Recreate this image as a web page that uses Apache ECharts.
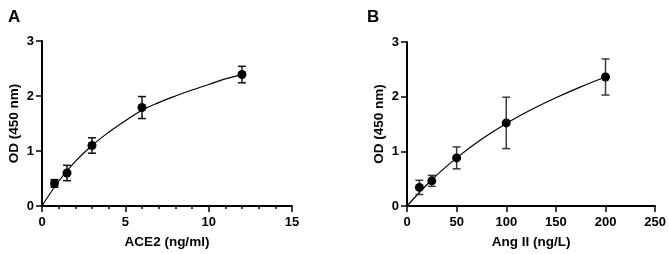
<!DOCTYPE html>
<html>
<head>
<meta charset="utf-8">
<script src="https://cdn.jsdelivr.net/npm/echarts@6/dist/echarts.min.js"></script>
<style>
  html, body { margin: 0; padding: 0; background: #fff; }
  #chart { width: 669px; height: 254px; }
</style>
</head>
<body>
<div id="chart"></div>
<script>
// panel A: ACE2 standard curve
const xA = [0.75, 1.5, 3, 6, 12];
const yA = [0.41, 0.6, 1.1, 1.79, 2.39];
const errA = [0.07, 0.14, 0.14, 0.2, 0.15];
const curveXA = [0, 1, 2, 3, 4, 5, 6, 7, 8, 9, 10, 11, 12];
const curveYA = [0, 0.45, 0.81, 1.1, 1.34, 1.55, 1.74, 1.88, 2.0, 2.11, 2.21, 2.31, 2.39];

// panel B: Ang II standard curve
const xB = [12.5, 25, 50, 100, 200];
const yB = [0.34, 0.46, 0.88, 1.52, 2.36];
const errB = [0.13, 0.1, 0.2, 0.47, 0.33];
const curveXB = [0, 25, 50, 75, 100, 125, 150, 175, 200];
const curveYB = [0, 0.48, 0.88, 1.22, 1.51, 1.76, 1.98, 2.18, 2.36];

const yTicks = [0, 1, 2, 3];

const font = "'Liberation Sans', Arial, sans-serif";

function pairs(xs, ys) {
  return xs.map((x, i) => [x, ys[i]]);
}

function errData(xs, ys, es) {
  return xs.map((x, i) => [x, ys[i] - es[i], ys[i] + es[i]]);
}

function errorBars(color) {
  return function (params, api) {
    const x = api.value(0);
    const lo = api.coord([x, api.value(1)]);
    const hi = api.coord([x, api.value(2)]);
    const w = 4;
    const style = { stroke: color, lineWidth: 1.5 };
    return {
      type: "group",
      children: [
        { type: "line", shape: { x1: lo[0], y1: lo[1], x2: hi[0], y2: hi[1] }, style },
        { type: "line", shape: { x1: lo[0] - w, y1: lo[1], x2: lo[0] + w, y2: lo[1] }, style },
        { type: "line", shape: { x1: hi[0] - w, y1: hi[1], x2: hi[0] + w, y2: hi[1] }, style }
      ]
    };
  };
}

const axisLine = { show: true, lineStyle: { color: "#000", width: 2 } };
const tickStyle = { show: true, length: 6, lineStyle: { color: "#000", width: 1.5 } };
const labelStyle = { color: "#000", fontFamily: font, fontWeight: "bold", fontSize: 13 };
const nameStyle = { color: "#000", fontFamily: font, fontWeight: "bold", fontSize: 13.5 };
const titleStyle = { fontFamily: font, fontWeight: "bold", fontSize: 17, color: "#000" };

function yAxis(gridIndex) {
  return {
    type: "value",
    gridIndex,
    min: yTicks[0],
    max: yTicks[yTicks.length - 1],
    interval: 1,
    name: "OD (450 nm)",
    nameLocation: "middle",
    nameGap: 21,
    nameTextStyle: nameStyle,
    axisLine,
    axisTick: tickStyle,
    axisLabel: Object.assign({ margin: 8 }, labelStyle),
    splitLine: { show: false }
  };
}

const chart = echarts.init(document.getElementById("chart"));
chart.setOption({
  animation: false,
  title: [
    { text: "A", left: 3, top: 4, textStyle: titleStyle },
    { text: "B", left: 362, top: 4, textStyle: titleStyle }
  ],
  grid: [
    { left: 42, top: 41, width: 250, height: 167 },
    { left: 407, top: 42, width: 249, height: 167 }
  ],
  xAxis: [
    {
      type: "value",
      gridIndex: 0,
      min: 0,
      max: 15,
      interval: 5,
      name: "ACE2 (ng/ml)",
      nameLocation: "middle",
      nameGap: 29,
      nameTextStyle: nameStyle,
      axisLine,
      axisTick: tickStyle,
      minorTick: { show: true, splitNumber: 5, length: 3, lineStyle: { color: "#000", width: 1.5 } },
      axisLabel: Object.assign({ margin: 10 }, labelStyle),
      splitLine: { show: false }
    },
    {
      type: "value",
      gridIndex: 1,
      min: 0,
      max: 250,
      interval: 50,
      name: "Ang II (ng/L)",
      nameLocation: "middle",
      nameGap: 29,
      nameTextStyle: nameStyle,
      axisLine,
      axisTick: tickStyle,
      axisLabel: Object.assign({ margin: 10 }, labelStyle),
      splitLine: { show: false }
    }
  ],
  yAxis: [yAxis(0), yAxis(1)],
  series: [
    {
      type: "line",
      xAxisIndex: 0,
      yAxisIndex: 0,
      data: pairs(curveXA, curveYA),
      smooth: 0.4,
      symbol: "none",
      lineStyle: { color: "#000", width: 1.2 },
      z: 2
    },
    {
      type: "custom",
      xAxisIndex: 0,
      yAxisIndex: 0,
      data: errData(xA, yA, errA),
      renderItem: errorBars("#111"),
      z: 3
    },
    {
      type: "scatter",
      xAxisIndex: 0,
      yAxisIndex: 0,
      data: pairs(xA, yA),
      symbolSize: 9,
      itemStyle: { color: "#000", opacity: 1 },
      z: 4
    },
    {
      type: "line",
      xAxisIndex: 1,
      yAxisIndex: 1,
      data: pairs(curveXB, curveYB),
      smooth: 0.4,
      symbol: "none",
      lineStyle: { color: "#000", width: 1.2 },
      z: 2
    },
    {
      type: "custom",
      xAxisIndex: 1,
      yAxisIndex: 1,
      data: errData(xB, yB, errB),
      renderItem: errorBars("#3a3a3a"),
      z: 3
    },
    {
      type: "scatter",
      xAxisIndex: 1,
      yAxisIndex: 1,
      data: pairs(xB, yB),
      symbolSize: 9,
      itemStyle: { color: "#000", opacity: 1 },
      z: 4
    }
  ]
});
</script>
</body>
</html>
